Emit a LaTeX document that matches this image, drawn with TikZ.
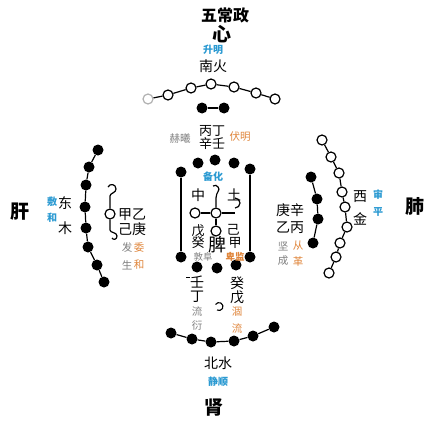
\documentclass[tikz,border=0pt]{standalone}
\usepackage{fontspec}
\newfontfamily\cjk{Noto Sans CJK SC}
\definecolor{cy}{HTML}{2B9AD2}
\definecolor{og}{HTML}{E0853A}
\definecolor{gy}{HTML}{7F7F7F}
\tikzset{
  oc/.style={circle,draw,fill=white,inner sep=0pt,minimum size=10pt,line width=1.2pt},
  bd/.style={circle,fill=black,inner sep=0pt,minimum size=11pt},
  ln/.style={line width=1.2pt},
  tx/.style={inner sep=0pt,font=\cjk\fontsize{14}{14}\selectfont},
  ts/.style={inner sep=0pt,font=\cjk\fontsize{13}{13}\selectfont},
  big/.style={inner sep=0pt,font=\cjk\bfseries\fontsize{19}{19}\selectfont},
  lab/.style={inner sep=0pt,font=\cjk\fontsize{10.5}{10.5}\selectfont},
  cl/.style={lab,text=cy,font=\cjk\bfseries\fontsize{10}{10}\selectfont},
  ol/.style={lab,text=og},
  gl/.style={lab,text=gy}
}
\begin{document}
\begin{tikzpicture}[x=1pt,y=-1pt]
\useasboundingbox[fill=white] (0,0) rectangle (446,436);
% titles
\node[inner sep=0pt,font=\cjk\bfseries\fontsize{16}{16}\selectfont] (title) at (225,15) {五常政};
\node[big] (xin) at (222,34) {心};
\node[cl] (shengming) at (213,50) {升明};
\node[tx] (nanhuo) at (213,66) {南火};
% top open chain
\node[oc,draw=gray!60] (a1) at (148,99) {};
\node[oc] (a2) at (168,95) {};
\node[oc] (a3) at (191,88) {};
\node[oc] (a4) at (211,84) {};
\node[oc] (a5) at (234,87) {};
\node[oc] (a6) at (256,93) {};
\node[oc] (a7) at (275,99) {};
\draw[ln] (a1)--(a2) (a2)--(a3) (a3)--(a4) (a4)--(a5) (a5)--(a6) (a6)--(a7);
\node[bd] (b1) at (202,108) {};
\node[bd] (b2) at (224,108) {};
\draw[ln] (b1)--(b2);
% upper center texts
\node[ts] (bingding) at (212,131) {丙丁};
\node[ts] (xinren) at (212,144) {辛壬};
\node[gl] (hexi) at (180,139) {赫曦};
\node[ol] (fuming) at (240,137) {伏明};
% center frame dots
\node[bd] (c1) at (198,163) {};
\node[bd] (c2) at (215,160) {};
\node[bd] (c3) at (234,163) {};
\node[bd] (c4) at (181,172) {};
\node[bd] (c5) at (250,169) {};
\node[bd] (c6) at (181,257) {};
\node[bd] (c7) at (250,257) {};
\draw[ln] (c4)--(c6) (c5)--(c7);
\node[bd] (d1) at (197,267) {};
\node[bd] (d2) at (217,268) {};
\node[bd] (d3) at (236,265) {};
\node[cl] (beihua) at (213,177) {备化};
% center cross
\node[tx] (zhong) at (198,195) {中};
\node[tx] (tu) at (234,195) {土};
\node[oc,minimum size=10pt] (m0) at (216,213) {};
\node[oc,minimum size=10pt] (ml) at (195,213) {};
\node[oc,minimum size=10pt] (mb) at (216,231) {};
\coordinate (mr) at (235,213);
\coordinate (mt) at (216,198);
\draw[ln] (m0)--(ml) (m0)--(mb) (m0)--(mr);
\draw[ln] (mr) ++(0,-5) arc[start angle=90,end angle=-90,radius=5];
\draw[ln] (m0)--(mt) .. controls (216,192) and (221,190) .. (218,187) .. controls (216,185) .. (213,186);
\node[ts] (wu1) at (198,231) {戊};
\node[ts] (ji1) at (233,230) {己};
\node[ts] (gui1) at (198,243) {癸};
\node[ts] (jia1) at (235,243) {甲};
\node[inner sep=0pt,font=\cjk\fontsize{18}{18}\selectfont] (pi) at (217,245) {脾};
\node[gl,font=\cjk\fontsize{9.5}{9.5}\selectfont] (dunfu) at (203,257) {敦阜};
\node[ol,font=\cjk\bfseries\fontsize{9.5}{9.5}\selectfont] (beijian) at (235,257) {卑监};
% lower center
\coordinate (dashA) at (186,277);
\coordinate (dashB) at (190,277);
\draw[line width=0.8pt] (dashA)--(dashB);
\node[tx] (ren2) at (197,282) {壬};
\node[tx] (ding2) at (197,297) {丁};
\node[gl] (liu1) at (197,311) {流};
\node[gl] (yan) at (197,326) {衍};
\node[tx] (gui2) at (237,283) {癸};
\node[tx] (wu2) at (237,297) {戊};
\node[ol] (he) at (237,312) {涸};
\node[ol] (liu2) at (237,328) {流};
\coordinate (hk) at (217,310);
\draw[line width=1.1pt] (hk) arc[start angle=120,end angle=-150,radius=4];
% bottom arc
\node[bd] (e1) at (171,333) {};
\node[bd] (e2) at (192,339) {};
\node[bd] (e3) at (211,342) {};
\node[bd] (e4) at (234,341) {};
\node[bd] (e5) at (253,336) {};
\node[bd] (e6) at (274,327) {};
\draw[ln] (e1)--(e2) (e2)--(e3) (e3)--(e4) (e4)--(e5) (e5)--(e6);
\node[tx] (beishui) at (218,363) {北水};
\node[cl] (jingshun) at (218,382) {静顺};
\node[big] (shen) at (214,408) {肾};
% left
\node[big] (gan) at (20,212) {肝};
\node[cl] (fu) at (52,202) {敷};
\node[cl] (he2) at (52,218) {和};
\node[tx] (dong) at (65,203) {东};
\node[tx] (mu) at (65,228) {木};
\node[bd] (f1) at (98,150) {};
\node[bd] (f2) at (89,167) {};
\node[bd] (f3) at (86,185) {};
\node[bd] (f4) at (85,207) {};
\node[bd] (f5) at (86,228) {};
\node[bd] (f6) at (88,247) {};
\node[bd] (f7) at (97,265) {};
\node[bd] (f8) at (104,282) {};
\draw[ln] (f1)--(f2) (f2)--(f3) (f3)--(f4) (f4)--(f5) (f5)--(f6) (f6)--(f7) (f7)--(f8);
\node[oc,minimum size=10pt] (g0) at (110,214) {};
\coordinate (gt) at (110,196);
\coordinate (gb) at (110,230);
\draw[ln] (g0)--(gt) .. controls (110,193) and (116,193) .. (116,189) .. controls (116,184) and (110,183) .. (108,187);
\draw[ln] (g0)--(gb) .. controls (110,233) and (117,232) .. (117,236) .. controls (117,240) and (113,240) .. (112,238);
\node[tx] (jiayi) at (132,215) {甲乙};
\node[tx] (jigeng) at (132,229) {己庚};
\node[gl] (fa) at (127,248) {发};
\node[ol] (wei) at (139,248) {委};
\node[gl] (sheng) at (127,265) {生};
\node[ol] (he3) at (139,265) {和};
% right
\node[oc] (h1) at (322,140) {};
\node[oc] (h2) at (331,157) {};
\node[oc] (h3) at (339,173) {};
\node[oc] (h4) at (342,192) {};
\node[oc] (h5) at (345,207) {};
\node[oc] (h6) at (347,227) {};
\node[oc] (h7) at (340,243) {};
\node[oc] (h8) at (336,257) {};
\node[oc] (h9) at (329,273) {};
\draw[ln] (h1)--(h2) (h2)--(h3) (h3)--(h4) (h4)--(h5) (h5)--(h6) (h6)--(h7) (h7)--(h8) (h8)--(h9);
\node[bd] (k1) at (311,177) {};
\node[bd] (k2) at (317,199) {};
\node[bd] (k3) at (318,219) {};
\node[bd] (k4) at (313,243) {};
\draw[ln] (k1)--(k2) (k2)--(k3) (k3)--(k4);
\node[tx] (gengxin) at (290,210) {庚辛};
\node[tx] (yibing) at (290,228) {乙丙};
\node[gl] (jian) at (283,246) {坚};
\node[gl] (cheng) at (283,261) {成};
\node[ol] (cong) at (298,246) {从};
\node[ol] (ge) at (298,261) {革};
\node[tx] (xi) at (360,197) {西};
\node[tx] (jin) at (360,219) {金};
\node[cl] (shen2) at (378,195) {审};
\node[cl] (ping) at (378,212) {平};
\node[big] (fei) at (415,206) {肺};
\end{tikzpicture}
\end{document}
